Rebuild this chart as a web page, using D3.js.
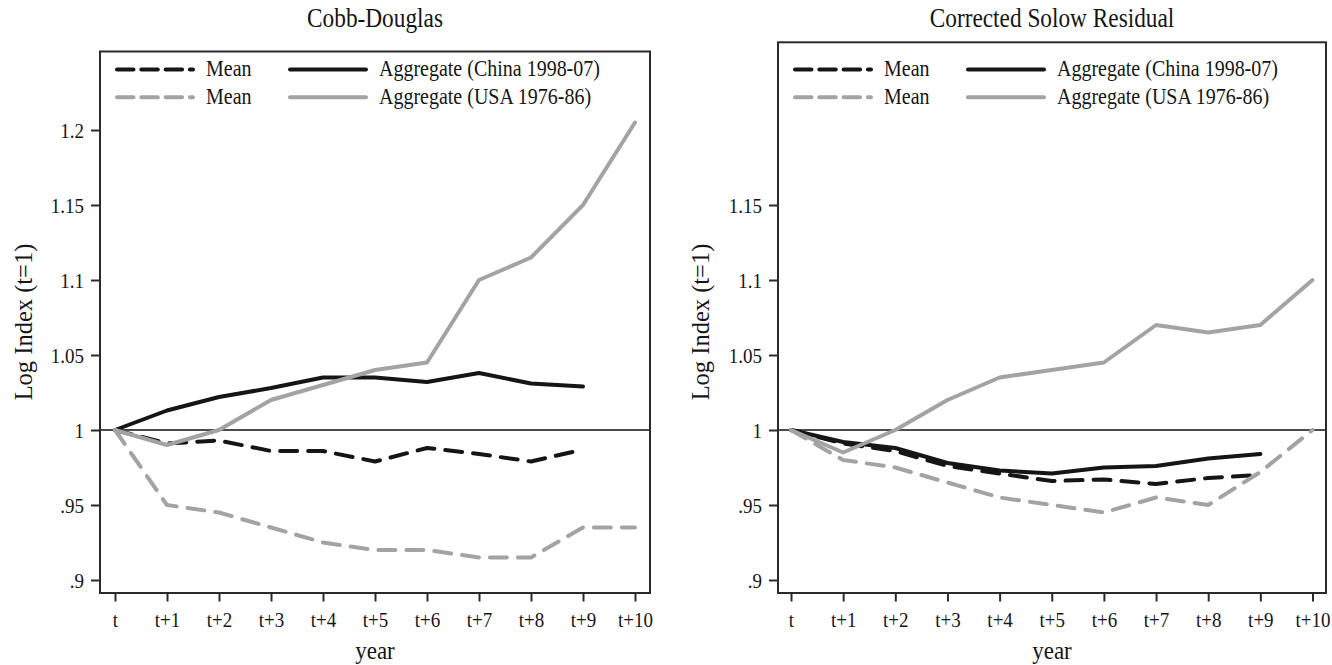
<!DOCTYPE html>
<html>
<head>
<meta charset="utf-8">
<script src="https://cdn.jsdelivr.net/npm/d3@7"></script>
<style>
  html, body { margin: 0; padding: 0; background: #fff; }
  svg { display: block; }
  text { font-family: "Liberation Serif", "Times New Roman", serif; fill: #151515; }
</style>
</head>
<body>
<svg id="chart" width="1332" height="665"></svg>
<script>
// ---------------- data ----------------
const years = ["t", "t+1", "t+2", "t+3", "t+4", "t+5", "t+6", "t+7", "t+8", "t+9", "t+10"];

// Cobb-Douglas panel
const cdChinaMean = [1, 0.991, 0.993, 0.986, 0.986, 0.979, 0.988, 0.984, 0.979, 0.987];
const cdChinaAgg  = [1, 1.013, 1.022, 1.028, 1.035, 1.035, 1.032, 1.038, 1.031, 1.029];
const cdUsaMean   = [1, 0.950, 0.945, 0.935, 0.925, 0.920, 0.920, 0.915, 0.915, 0.935, 0.935];
const cdUsaAgg    = [1, 0.990, 1.000, 1.020, 1.030, 1.040, 1.045, 1.100, 1.115, 1.150, 1.205];

// Corrected Solow Residual panel
const csrChinaMean = [1, 0.991, 0.986, 0.976, 0.971, 0.966, 0.967, 0.964, 0.968, 0.970];
const csrChinaAgg  = [1, 0.992, 0.988, 0.978, 0.973, 0.971, 0.975, 0.976, 0.981, 0.984];
const csrUsaMean   = [1, 0.980, 0.975, 0.965, 0.955, 0.950, 0.945, 0.955, 0.950, 0.972, 1.000];
const csrUsaAgg    = [1, 0.985, 1.000, 1.020, 1.035, 1.040, 1.045, 1.070, 1.065, 1.070, 1.100];

const cdTickValues  = [0.9, 0.95, 1, 1.05, 1.1, 1.15, 1.2];
const cdTickLabels  = [".9", ".95", "1", "1.05", "1.1", "1.15", "1.2"];
const csrTickValues = [0.9, 0.95, 1, 1.05, 1.1, 1.15];
const csrTickLabels = [".9", ".95", "1", "1.05", "1.1", "1.15"];

const legendLabels = ["Mean", "Aggregate (China 1998-07)", "Mean", "Aggregate (USA 1976-86)"];
const titles = ["Cobb-Douglas", "Corrected Solow Residual"];
const xTitle = "year";
const yTitle = "Log Index (t=1)";

// ---------------- styles / layout ----------------
const BLACK = "#151515", GRAY = "#a3a3a3";
const FRAME = "#2a2a2a";
const LW = 4;
const DASH_PLOT = "17,11";
const DASH_LEG = "16.5,7.8";
const SY = 1.13; // vertical stretch of glyphs, as in the reference

const panels = [
  { title: titles[0], left: 100, right: 650, top: 51.5, bottom: 593, x0: 115, x10: 635,
    ticks: cdTickValues, tickLabels: cdTickLabels,
    series: [
      { vals: cdChinaMean, color: BLACK, dash: true },
      { vals: cdChinaAgg,  color: BLACK, dash: false },
      { vals: cdUsaMean,   color: GRAY,  dash: true },
      { vals: cdUsaAgg,    color: GRAY,  dash: false }
    ], ylabX: 32, legX: 115 },
  { title: titles[1], left: 778, right: 1326, top: 42.3, bottom: 593, x0: 791, x10: 1312.5,
    ticks: csrTickValues, tickLabels: csrTickLabels,
    series: [
      { vals: csrChinaMean, color: BLACK, dash: true },
      { vals: csrChinaAgg,  color: BLACK, dash: false },
      { vals: csrUsaMean,   color: GRAY,  dash: true },
      { vals: csrUsaAgg,    color: GRAY,  dash: false }
    ], ylabX: 709, legX: 793 }
];

const svg = d3.select("#chart");

function stretchedText(g, x, y, str, size, anchor) {
  return g.append("text")
    .attr("transform", `translate(${x},${y}) scale(1,${SY})`)
    .attr("text-anchor", anchor || "start")
    .style("font-size", size + "px")
    .text(str);
}

panels.forEach(p => {
  const g = svg.append("g");
  const x = d3.scaleLinear().domain([0, 10]).range([p.x0, p.x10]);
  // shared vertical scale: 1500 px per unit
  const y = d3.scaleLinear().domain([0.9, 1.2]).range([580, 130]);

  // title
  stretchedText(g, (p.left + p.right) / 2, 27, p.title, 23.3, "middle");

  // reference line at 1
  g.append("line")
    .attr("x1", p.left).attr("x2", p.right)
    .attr("y1", y(1)).attr("y2", y(1))
    .attr("stroke", "#111").attr("stroke-width", 1.3);

  // series
  const line = d3.line().x((d, i) => x(i)).y(d => y(d));
  p.series.forEach(s => {
    g.append("path")
      .datum(s.vals)
      .attr("d", line)
      .attr("fill", "none")
      .attr("stroke", s.color)
      .attr("stroke-width", LW)
      .attr("stroke-linejoin", "round")
      .attr("stroke-linecap", "round")
      .attr("stroke-dasharray", s.dash ? DASH_PLOT : null);
  });

  // frame
  g.append("rect")
    .attr("x", p.left).attr("y", p.top)
    .attr("width", p.right - p.left).attr("height", p.bottom - p.top)
    .attr("fill", "none").attr("stroke", FRAME).attr("stroke-width", 2);

  // y axis
  const yAxis = d3.axisLeft(y)
    .tickValues(p.ticks)
    .tickFormat((d, i) => p.tickLabels[i])
    .tickSize(9).tickPadding(7);
  const ya = g.append("g").attr("transform", `translate(${p.left},0)`).call(yAxis);
  ya.select(".domain").remove();
  ya.selectAll(".tick line").attr("stroke", FRAME).attr("stroke-width", 2);
  ya.selectAll(".tick text")
    .attr("x", 0).attr("dy", null)
    .attr("transform", `translate(-16,7.6) scale(1,${SY})`)
    .style("font-size", "19px")
    .style("font-family", "'Liberation Serif', serif")
    .attr("fill", "#151515");

  // x axis
  const xAxis = d3.axisBottom(x)
    .tickValues(d3.range(years.length))
    .tickFormat(i => years[i])
    .tickSize(8.5).tickPadding(12);
  const xa = g.append("g").attr("transform", `translate(0,${p.bottom})`).call(xAxis);
  xa.select(".domain").remove();
  xa.selectAll(".tick line").attr("stroke", FRAME).attr("stroke-width", 2);
  xa.selectAll(".tick text")
    .attr("y", 0).attr("dy", null)
    .attr("transform", `translate(0,34) scale(1,${SY})`)
    .style("font-size", "19px")
    .style("font-family", "'Liberation Serif', serif")
    .attr("fill", "#151515");

  // axis titles
  stretchedText(g, (p.left + p.right) / 2, 659, xTitle, 23, "middle");
  g.append("text")
    .attr("transform", `translate(${p.ylabX},322) rotate(-90)`)
    .attr("text-anchor", "middle")
    .style("font-size", "24.5px")
    .text(yTitle);

  // legend
  const rows = [69.5, 97.3];
  const leg = g.append("g");
  const items = [
    { col: 0, row: 0, s: p.series[0], label: legendLabels[0] },
    { col: 1, row: 0, s: p.series[1], label: legendLabels[1] },
    { col: 0, row: 1, s: p.series[2], label: legendLabels[2] },
    { col: 1, row: 1, s: p.series[3], label: legendLabels[3] }
  ];
  const colOff = [0, 173];
  items.forEach(it => {
    const lx = p.legX + colOff[it.col];
    const ly = rows[it.row];
    leg.append("line")
      .attr("x1", lx + 2).attr("x2", lx + 78)
      .attr("y1", ly).attr("y2", ly)
      .attr("stroke", it.s.color)
      .attr("stroke-width", LW)
      .attr("stroke-linecap", "round")
      .attr("stroke-dasharray", it.s.dash ? DASH_LEG : null);
    stretchedText(leg, lx + 91, ly + 6.6, it.label, 20, "start");
  });
});
</script>
</body>
</html>
